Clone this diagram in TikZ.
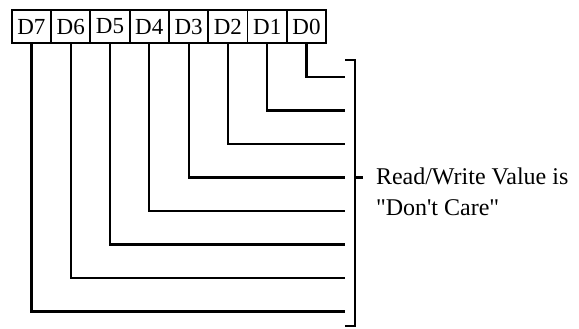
\documentclass[tikz,border=0pt]{standalone}
\usepackage{fontspec}
\setmainfont{Liberation Serif}
\usetikzlibrary{positioning}

\begin{document}
\begin{tikzpicture}[x=0.5pt,y=-0.5pt,line width=1pt]
\tikzset{
  bitcell/.style={draw,line width=0.9pt,rectangle,minimum width=19.65pt,minimum height=16.5pt,inner sep=0pt,font=\fontsize{11.5}{13}\selectfont},
  wire/.style={line width=1.1pt},
  lbl/.style={font=\fontsize{12}{15.5}\selectfont,align=left,inner sep=0pt},
}
\useasboundingbox (0,0) rectangle (579,328);

\node[bitcell](d7) at ( 31.4,26.5){D7};
\node[bitcell](d6) at ( 70.7,26.5){D6};
\node[bitcell](d5) at (110.0,26.5){D5};
\node[bitcell](d4) at (149.3,26.5){D4};
\node[bitcell](d3) at (188.6,26.5){D3};
\node[bitcell](d2) at (227.9,26.5){D2};
\node[bitcell](d1) at (267.2,26.5){D1};
\node[bitcell](d0) at (306.5,26.5){D0};

\coordinate(e0) at (345, 77.0);
\coordinate(e1) at (345,110.5);
\coordinate(e2) at (345,144.0);
\coordinate(e3) at (345,177.5);
\coordinate(e4) at (345,211.0);
\coordinate(e5) at (345,244.5);
\coordinate(e6) at (345,278.0);
\coordinate(e7) at (345,311.5);

\draw[wire](d0.south) |- (e0);
\draw[wire](d1.south) |- (e1);
\draw[wire](d2.south) |- (e2);
\draw[wire](d3.south) |- (e3);
\draw[wire](d4.south) |- (e4);
\draw[wire](d5.south) |- (e5);
\draw[wire](d6.south) |- (e6);
\draw[wire](d7.south) |- (e7);

% bracket
\coordinate(btop) at (345,60);
\coordinate(bbot) at (345,326);
\coordinate(bmid) at (355,177.5);
\draw[wire](btop) -- ++(10,0) |- (bbot);
\draw[wire](bmid) -- ++(8,0);

\node[lbl,anchor=west](note) at (375,192){Read/Write Value is\\\textquotedbl Don\textquotesingle t Care\textquotedbl};

\end{tikzpicture}
\end{document}
